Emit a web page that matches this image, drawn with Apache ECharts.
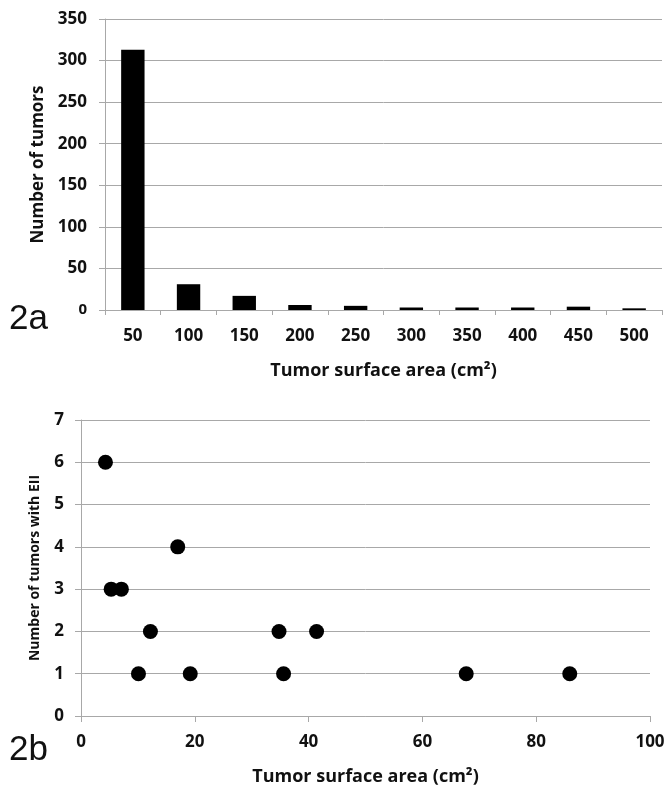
<!DOCTYPE html>
<html>
<head>
<meta charset="utf-8">
<script src="https://cdn.jsdelivr.net/npm/echarts@6/dist/echarts.min.js"></script>
<style>
html,body{margin:0;padding:0;background:#fff;}
#chart{width:669px;height:789px;}
</style>
</head>
<body>
<div id="chart"></div>
<script>
// Panel 2a: histogram
const barCategories = ['50','100','150','200','250','300','350','400','450','500'];
const barValues = [313, 31, 17, 6, 5, 3, 3, 3, 4, 2];
// Panel 2b: scatter
const scatterX = [4.3, 5.3, 7.1, 17.0, 12.2, 34.8, 41.4, 10.1, 19.2, 35.6, 67.7, 85.9];
const scatterY = [6, 3, 3, 4, 2, 2, 2, 1, 1, 1, 1, 1];

const FONT = '"Open Sans", "DejaVu Sans", sans-serif';
const gridColor = '#a8a8a8';
const labelStyle = {color:'#111', fontFamily: FONT, fontWeight: 'bold', fontSize: 17};
const nameStyle = {color:'#111', fontFamily: FONT, fontWeight:'bold', fontSize:18};

const chart = echarts.init(document.getElementById('chart'), null, {renderer:'canvas'});
chart.setOption({
  backgroundColor: '#fff',
  animation: false,
  grid: [
    {left:105, top:19, width:557, height:291},
    {left:81, top:420, width:569, height:296}
  ],
  graphic: [
    {type:'text', left:9, top:302, style:{text:'2a', font:'35px "Liberation Sans", Arial, sans-serif', fill:'#111'}},
    {type:'text', left:9, top:733, style:{text:'2b', font:'35px "Liberation Sans", Arial, sans-serif', fill:'#111'}}
  ],
  xAxis: [
    {
      gridIndex:0, type:'category', data: barCategories,
      axisLine:{show:true, lineStyle:{color:gridColor, width:1}},
      axisTick:{show:true, alignWithLabel:false, length:5, lineStyle:{color:gridColor}},
      axisLabel: Object.assign({margin:18}, labelStyle),
      name:'Tumor surface area (cm²)', nameLocation:'middle', nameGap:52,
      nameTextStyle: nameStyle
    },
    {
      gridIndex:1, type:'value', min:0, max:100, interval:20,
      axisLine:{show:true, lineStyle:{color:gridColor, width:1}},
      axisTick:{show:true, length:6, lineStyle:{color:gridColor}},
      splitLine:{show:false},
      axisLabel: Object.assign({margin:18}, labelStyle),
      name:'Tumor surface area (cm²)', nameLocation:'middle', nameGap:52,
      nameTextStyle: nameStyle
    }
  ],
  yAxis: [
    {
      gridIndex:0, type:'value', min:0, max:350, interval:50,
      axisLine:{show:true, lineStyle:{color:gridColor, width:1}},
      axisTick:{show:true, length:6, lineStyle:{color:gridColor}},
      splitLine:{show:true, lineStyle:{color:gridColor, width:1}},
      axisLabel: Object.assign({
        margin:18,
        formatter: v => v === 0 ? '{s|0}' : String(v),
        rich: {s:{color:'#111', fontFamily: FONT, fontWeight:'bold', fontSize:15}}
      }, labelStyle),
      name:'Number of tumors', nameLocation:'middle', nameGap:58,
      nameTextStyle:{color:'#111', fontFamily: FONT, fontWeight:'bold', fontSize:17}
    },
    {
      gridIndex:1, type:'value', min:0, max:7, interval:1,
      axisLine:{show:true, lineStyle:{color:gridColor, width:1}},
      axisTick:{show:true, length:6, lineStyle:{color:gridColor}},
      splitLine:{show:true, lineStyle:{color:gridColor, width:1}},
      axisLabel: Object.assign({margin:17}, labelStyle),
      name:'Number of tumors with EII', nameLocation:'middle', nameGap:39,
      nameTextStyle:{color:'#111', fontFamily: FONT, fontWeight:'bold', fontSize:14}
    }
  ],
  series: [
    {
      type:'bar', xAxisIndex:0, yAxisIndex:0, data: barValues,
      barWidth:'42%', itemStyle:{color:'#000'}
    },
    {
      type:'scatter', xAxisIndex:1, yAxisIndex:1,
      data: scatterX.map((x,i)=>[x, scatterY[i]]),
      symbol:'circle', symbolSize:15, itemStyle:{color:'#000', opacity:1}
    }
  ]
});
</script>
</body>
</html>
